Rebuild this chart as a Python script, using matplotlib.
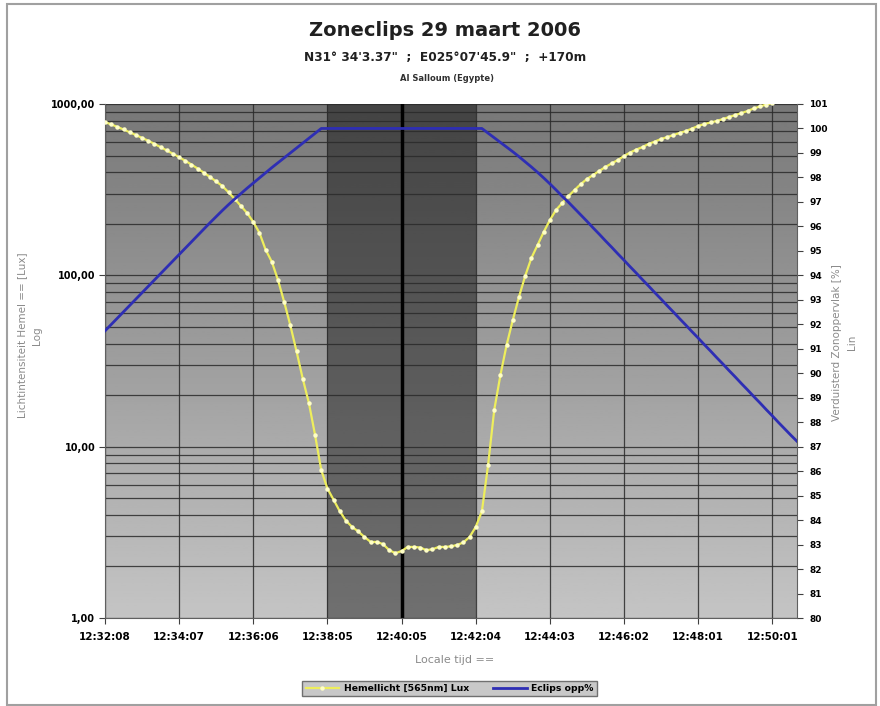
import numpy as np
import matplotlib.pyplot as plt
from matplotlib.ticker import LogLocator, NullFormatter
from matplotlib.lines import Line2D
from matplotlib.patches import Rectangle

# --- DATA ---
# Sky light (lux), one reading per sample (~10 s apart)
hemellicht = [
    785, 760, 735, 710, 684, 659, 634, 610, 585, 560,
    536, 512, 489, 466, 443, 420, 397, 375, 353, 332,
    305, 279, 254, 231, 205, 177, 141, 120, 94, 70,
    51, 36, 25, 18, 11.7, 7.3, 5.7, 4.9, 4.2, 3.7,
    3.4, 3.2, 2.97, 2.78, 2.78, 2.70, 2.49, 2.39, 2.46, 2.60,
    2.60, 2.58, 2.49, 2.52, 2.60, 2.60, 2.62, 2.67, 2.76, 2.97,
    3.40, 4.2, 7.8, 16.4, 26.2, 39.2, 54.8, 74.8, 99, 126,
    150, 179, 210, 241, 264, 290, 315, 341, 365, 385,
    407, 429, 450, 471, 497, 521, 542, 561, 585, 604,
    625, 641, 659, 678, 695, 719, 744, 764, 780, 796,
    817, 839, 862, 885, 910, 942, 967, 993, 1010,
]

# Covered part of the sun disc (%)
eclips_opp = [
    91.73, 91.99, 92.25, 92.51, 92.77, 93.03, 93.29, 93.55, 93.81, 94.07,
    94.33, 94.59, 94.85, 95.11, 95.37, 95.63, 95.89, 96.15, 96.40, 96.65,
    96.89, 97.12, 97.34, 97.56, 97.77, 97.98, 98.19, 98.40, 98.60, 98.80,
    99.00, 99.20, 99.40, 99.60, 99.80, 100.00, 100.00, 100.00, 100.00, 100.00,
    100.00, 100.00, 100.00, 100.00, 100.00, 100.00, 100.00, 100.00, 100.00, 100.00,
    100.00, 100.00, 100.00, 100.00, 100.00, 100.00, 100.00, 100.00, 100.00, 100.00,
    100.00, 100.00, 99.81, 99.62, 99.43, 99.24, 99.05, 98.85, 98.64, 98.43,
    98.21, 97.98, 97.74, 97.49, 97.23, 96.99, 96.73, 96.47, 96.21, 95.94,
    95.68, 95.41, 95.15, 94.88, 94.62, 94.35, 94.09, 93.82, 93.56, 93.29,
    93.03, 92.76, 92.50, 92.23, 91.97, 91.70, 91.44, 91.17, 90.91, 90.64,
    90.38, 90.11, 89.85, 89.58, 89.32, 89.05, 88.79, 88.52, 88.26, 87.99,
    87.73, 87.47, 87.22,
]

tijd_labels = ['12:32:08', '12:34:07', '12:36:06', '12:38:05', '12:40:05',
               '12:42:04', '12:44:03', '12:46:02', '12:48:01', '12:50:01']
tijd_stap = 12          # samples between two time labels
totaal_start = 36       # sample index 12:38:05
totaal_eind = 60        # sample index 12:42:04
maximum = 48            # sample index 12:40:05

lux_ticks = [1, 10, 100, 1000]
lux_labels = ['1,00', '10,00', '100,00', '1000,00']
pct_ticks = list(range(80, 102))

x_lux = np.arange(len(hemellicht))
x_pct = np.arange(len(eclips_opp))

GEEL = '#eeee5c'
BLAUW = '#2e2eb4'

# --- FIGURE ---
fig = plt.figure(figsize=(8.8, 7.06), dpi=100)
pos = [0.1193, 0.1246, 0.7864, 0.7281]

# gray gradient behind the plot area
bg = fig.add_axes(pos, zorder=0)
grad = np.linspace(0.47, 0.77, 256).reshape(-1, 1)
bg.imshow(grad, cmap='gray', vmin=0, vmax=1, aspect='auto', extent=[0, 1, 0, 1])
bg.set_axis_off()

ax = fig.add_axes(pos, zorder=1)
ax.patch.set_visible(False)
ax.set_yscale('log')
ax.set_xlim(0, len(eclips_opp) - 1)
ax.set_ylim(1, 1000)

# darker band around totality
ax.axvspan(totaal_start, totaal_eind, color='black', alpha=0.43, lw=0, zorder=0.5)

ax.set_yticks(lux_ticks)
ax.set_yticklabels(lux_labels, fontsize=7, fontweight='bold')
ax.yaxis.set_minor_locator(LogLocator(base=10, subs=np.arange(2, 10)))
ax.yaxis.set_minor_formatter(NullFormatter())
ax.grid(True, which='both', axis='y', color='#2a2a2a', lw=0.9, alpha=0.85)

xt = np.arange(0, len(tijd_labels) * tijd_stap, tijd_stap)
ax.set_xticks(xt)
ax.set_xticklabels(tijd_labels, fontsize=7.5, fontweight='bold')
ax.grid(True, axis='x', color='#2a2a2a', lw=0.9, alpha=0.85)
ax.axvline(maximum, color='black', lw=2.5, zorder=1.6)

ax.tick_params(axis='y', which='major', length=4, color='#404040', pad=3)
ax.tick_params(axis='y', which='minor', length=0)
ax.tick_params(axis='x', length=4, color='#404040', pad=6)

ax.plot(x_lux, hemellicht, color=GEEL, lw=1.6, marker='o', ms=2.2,
        mfc='#ffffc8', mec='#ffffc8', zorder=3)

for s in ['top', 'right']:
    ax.spines[s].set_visible(False)
for s in ['left', 'bottom']:
    ax.spines[s].set_color('#606060')

ax2 = ax.twinx()
ax2.patch.set_visible(False)
ax2.set_ylim(80, 101)
ax2.set_yticks(pct_ticks)
ax2.set_yticklabels([str(v) for v in pct_ticks], fontsize=6.5, fontweight='bold')
ax2.tick_params(axis='y', length=4, color='#404040', pad=5)
ax2.plot(x_pct, eclips_opp, color=BLAUW, lw=2.0, zorder=2)
for s in ['top', 'left', 'bottom']:
    ax2.spines[s].set_visible(False)
ax2.spines['right'].set_color('#606060')

# --- TEXT ---
fig.text(0.506, 0.957, 'Zoneclips 29 maart 2006', ha='center', va='center',
         fontsize=14, fontweight='bold', color='#202020')
fig.text(0.506, 0.918, 'N31° 34\'3.37"  ;  E025°07\'45.9"  ;  +170m',
         ha='center', va='center', fontsize=8.7, fontweight='bold', color='#202020')
fig.text(0.508, 0.889, 'Al Salloum (Egypte)', ha='center', va='center',
         fontsize=6, fontweight='bold', color='#303030')

fig.text(0.034, 0.525, 'Lichtintensiteit Hemel == [Lux]\nLog', rotation=90,
         ha='center', va='center', fontsize=7.5, color='#8a8a8a', linespacing=1.6)
fig.text(0.960, 0.515, 'Verduisterd Zonoppervlak [%]\nLin', rotation=90,
         ha='center', va='center', fontsize=7.5, color='#8a8a8a', linespacing=1.6)
fig.text(0.517, 0.065, 'Locale tijd ==', ha='center', va='center',
         fontsize=8, color='#8a8a8a')

# --- LEGEND ---
handles = [
    Line2D([], [], color=GEEL, lw=1.6, marker='o', ms=2.2,
           mfc='#ffffc8', mec='#ffffc8'),
    Line2D([], [], color=BLAUW, lw=2.0),
]
leg = fig.legend(handles, ['Hemellicht [565nm] Lux', 'Eclips opp%'],
                 loc='center', bbox_to_anchor=(0.511, 0.025), ncol=2,
                 prop={'size': 6.7, 'weight': 'bold'}, fancybox=False,
                 handlelength=3.6, columnspacing=2.6, borderpad=0.35,
                 handletextpad=0.5)
leg.get_frame().set_facecolor('#c8c8c8')
leg.get_frame().set_edgecolor('#707070')
leg.get_frame().set_alpha(1)

# chart border
fig.patches.append(Rectangle((0.008, 0.002), 0.988, 0.992, transform=fig.transFigure,
                             fill=False, edgecolor='#a0a0a0', lw=1.5))

plt.savefig('out.png', dpi=100)
plt.close()
